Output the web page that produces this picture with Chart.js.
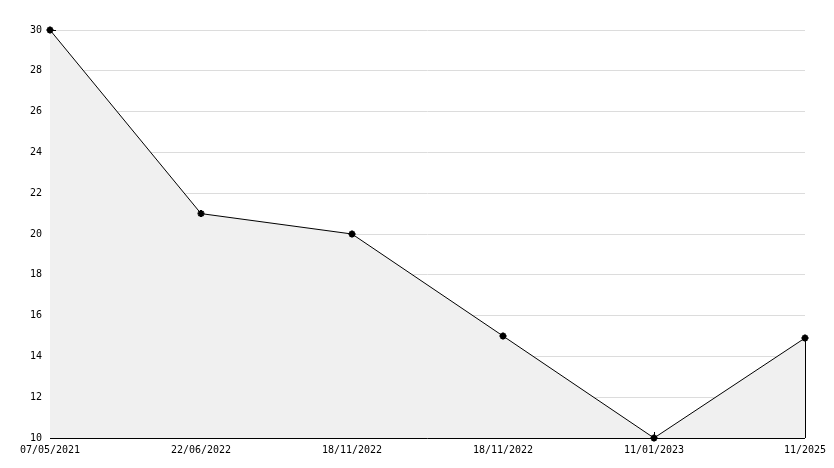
<!DOCTYPE html>
<html>
<head>
<meta charset="utf-8">
<script src="https://cdn.jsdelivr.net/npm/chart.js@4/dist/chart.umd.min.js"></script>
<style>
  html, body { margin: 0; padding: 0; background: #fff; }
  #wrap { width: 834px; height: 468px; }
</style>
</head>
<body>
<div id="wrap"><canvas id="chart"></canvas></div>
<script>
const dates = ['07/05/2021', '22/06/2022', '18/11/2022', '18/11/2022', '11/01/2023', '11/2025']
const values = [30, 21, 20, 15, 10, 14.9]
const yMin = 10
const yMax = 30

// inward ticks, axis lines and the closing edge of the fill
const axesPlugin = {
    id: 'axes',
    beforeDatasetsDraw(chart) {
        const ctx = chart.ctx
        const area = chart.chartArea
        const x = chart.scales.x
        const y = chart.scales.y
        ctx.save()
        ctx.strokeStyle = '#000'
        ctx.lineWidth = 1
        ctx.beginPath()
        // y axis + ticks
        ctx.moveTo(area.left + 0.5, area.top)
        ctx.lineTo(area.left + 0.5, area.bottom)
        for (let v = yMin; v <= yMax; v++) {
            const py = Math.round(y.getPixelForValue(v)) + 0.5
            ctx.moveTo(area.left, py)
            ctx.lineTo(area.left + 6, py)
        }
        // x axis + ticks
        ctx.moveTo(area.left, area.bottom + 0.5)
        ctx.lineTo(area.right, area.bottom + 0.5)
        dates.forEach((d, i) => {
            const px = Math.round(x.getPixelForValue(i)) + 0.5
            ctx.moveTo(px, area.bottom)
            ctx.lineTo(px, area.bottom - 6)
        })
        ctx.stroke()
        ctx.restore()
    },
    afterDatasetsDraw(chart) {
        const ctx = chart.ctx
        const area = chart.chartArea
        const x = chart.scales.x
        const y = chart.scales.y
        const last = values.length - 1
        const lx = Math.round(x.getPixelForValue(last)) + 0.5
        ctx.save()
        ctx.strokeStyle = '#000'
        ctx.lineWidth = 1
        ctx.beginPath()
        ctx.moveTo(lx, y.getPixelForValue(values[last]))
        ctx.lineTo(lx, area.bottom)
        ctx.stroke()
        ctx.restore()
    }
}

new Chart(document.getElementById('chart'), {
    type: 'line',
    data: {
        labels: dates,
        datasets: [{
            data: values,
            borderColor: '#000',
            borderWidth: 1,
            backgroundColor: '#f0f0f0',
            fill: 'start',
            tension: 0,
            clip: false,
            pointStyle: 'star',
            pointRadius: 3.5,
            pointBorderWidth: 2,
            pointBorderColor: '#000',
            pointBackgroundColor: '#000'
        }]
    },
    options: {
        responsive: true,
        maintainAspectRatio: false,
        animation: false,
        layout: { padding: { top: 30, right: 29, left: 0, bottom: 0 } },
        plugins: { legend: { display: false }, tooltip: { enabled: false } },
        scales: {
            x: {
                type: 'category',
                offset: false,
                border: { display: false },
                grid: { display: false, drawTicks: false },
                ticks: {
                    color: '#000',
                    font: { family: 'DejaVu Sans Mono', size: 10 },
                    maxRotation: 0,
                    autoSkip: false,
                    padding: 6
                },
                afterFit(scale) { scale.height = 30 }
            },
            y: {
                min: yMin,
                max: yMax,
                border: { display: false },
                grid: {
                    drawTicks: false,
                    color: ctx => (ctx.tick && ctx.tick.value % 2 === 0) ? '#dcdcdc' : 'rgba(0,0,0,0)'
                },
                ticks: {
                    stepSize: 1,
                    autoSkip: false,
                    color: '#000',
                    font: { family: 'DejaVu Sans Mono', size: 10 },
                    padding: 8,
                    callback: v => v % 2 === 0 ? v : ''
                },
                afterFit(scale) { scale.width = 50 }
            }
        }
    },
    plugins: [axesPlugin]
})
</script>
</body>
</html>
